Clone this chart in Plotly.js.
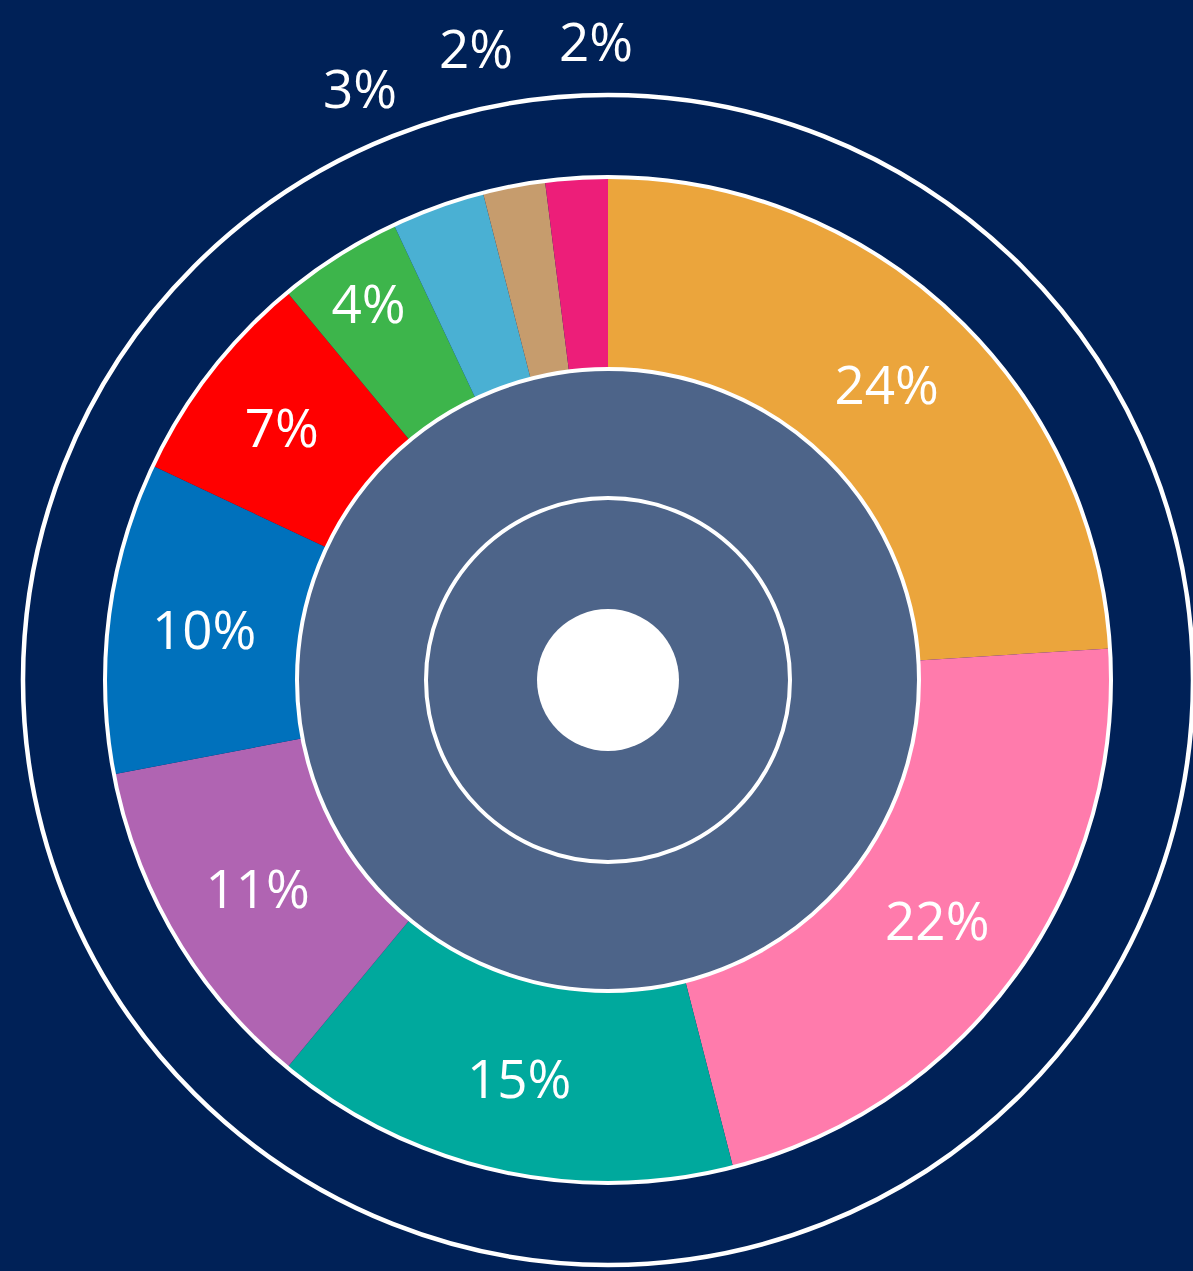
<!DOCTYPE html>
<html>
<head>
<meta charset="utf-8">
<script src="https://cdn.plot.ly/plotly-3.0.1.min.js"></script>
<style>
  html, body { margin: 0; padding: 0; background: #002157; }
  #chart { width: 1193px; height: 1271px; }
</style>
</head>
<body>
<div id="chart"></div>
<script>
// ---- data ----
var categories = ["A", "B", "C", "D", "E", "F", "G", "H", "I", "J"];
var shares = [24, 22, 15, 11, 10, 7, 4, 3, 2, 2];
var sliceColors = ["#EBA53C", "#FF7BAC", "#00A99D", "#B064B2", "#0071BC",
                   "#FF0000", "#3DB54B", "#4AB0D3", "#C69C6D", "#ED1E79"];
var outsideThreshold = 4; // slices smaller than this get their label outside

// ---- geometry (pixels) ----
var W = 1193, H = 1271;
var cx = 608, cy = 680;
var rOuter = 503, rHole = 311, rInnerRing = 182, rCenter = 71, rFrame = 585;
var labelSize = 53;

function px(x) { return x / W; }
function py(y) { return 1 - y / H; }

var insideText = shares.map(function (v) { return v >= outsideThreshold ? v + "%" : ""; });

var trace = {
  type: "pie",
  labels: categories,
  values: shares,
  sort: false,
  direction: "clockwise",
  rotation: 0,
  hole: rHole / rOuter,
  marker: { colors: sliceColors, line: { width: 0 } },
  text: insideText,
  textinfo: "text",
  textposition: "inside",
  insidetextorientation: "horizontal",
  textfont: { family: "Open Sans", size: labelSize, color: "#FFFFFF" },
  domain: { x: [px(cx - rOuter), px(cx + rOuter)], y: [py(cy + rOuter), py(cy - rOuter)] },
  showlegend: false,
  hoverinfo: "none"
};

function circle(r, fill, lineColor, lineWidth) {
  return {
    type: "circle", xref: "paper", yref: "paper", layer: "above",
    x0: px(cx - r), x1: px(cx + r), y0: py(cy + r), y1: py(cy - r),
    fillcolor: fill, line: { color: lineColor, width: lineWidth }
  };
}

var shapes = [
  circle(rFrame, "rgba(0,0,0,0)", "#FFFFFF", 4.5),
  circle(rOuter, "rgba(0,0,0,0)", "#FFFFFF", 4),
  circle(rHole, "#4D6489", "#FFFFFF", 4),
  circle(rInnerRing, "rgba(0,0,0,0)", "#FFFFFF", 4),
  circle(rCenter, "#FFFFFF", "rgba(0,0,0,0)", 0)
];

// outside label anchor points (pixels) for the small slices
var outsidePos = [[360, 88], [476, 48], [596, 41]];
var annotations = [];
var k = 0;
shares.forEach(function (v) {
  if (v < outsideThreshold) {
    var p = outsidePos[k++];
    annotations.push({
      xref: "paper", yref: "paper", x: px(p[0]), y: py(p[1]),
      xanchor: "center", yanchor: "middle", showarrow: false,
      text: v + "%",
      font: { family: "Open Sans", size: labelSize, color: "#FFFFFF" }
    });
  }
});

var layout = {
  width: W, height: H,
  margin: { l: 0, r: 0, t: 0, b: 0 },
  paper_bgcolor: "#002157",
  plot_bgcolor: "#002157",
  showlegend: false,
  hovermode: false,
  uniformtext: { minsize: labelSize, mode: "show" },
  shapes: shapes,
  annotations: annotations
};

Plotly.newPlot("chart", [trace], layout, { displayModeBar: false, staticPlot: true });
</script>
</body>
</html>
